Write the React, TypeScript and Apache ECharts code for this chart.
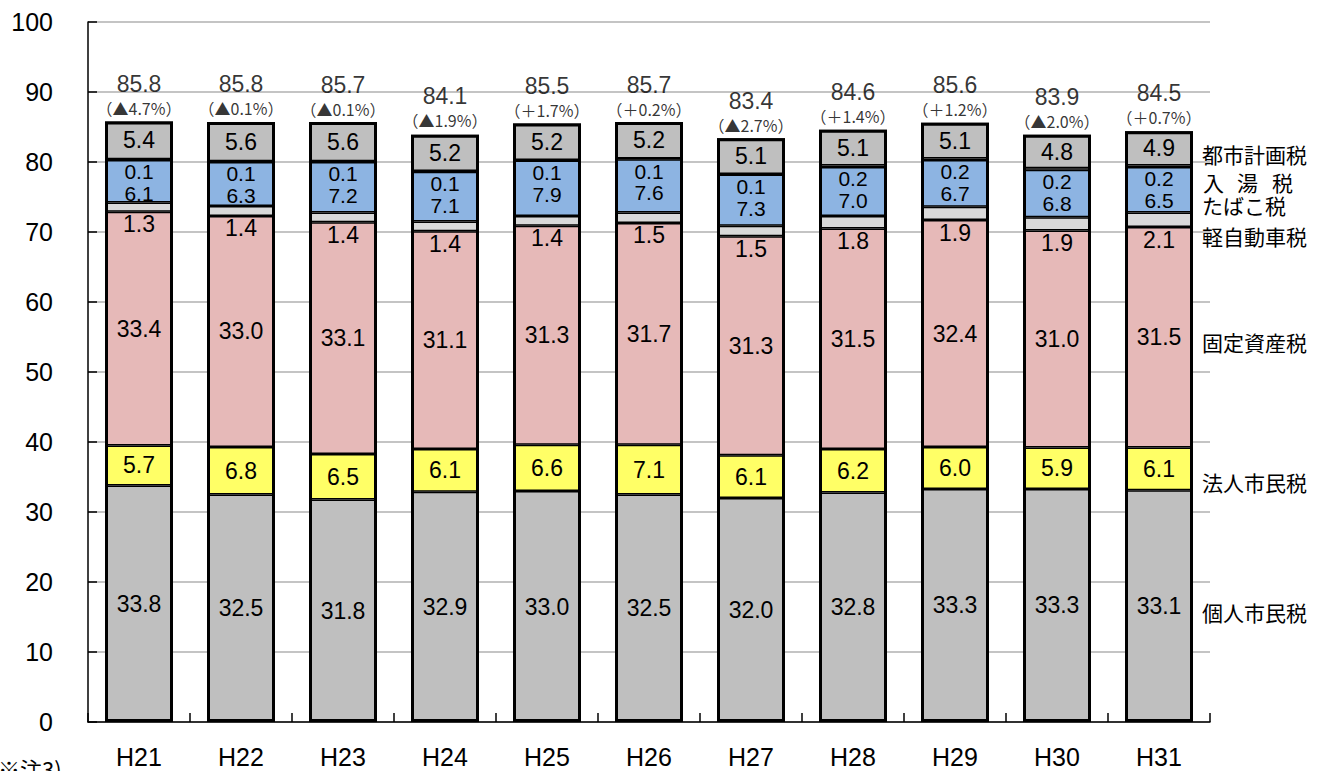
import React, { useEffect, useRef } from "react";
import * as echarts from "echarts";

// Fiscal years
const categories = ["H21", "H22", "H23", "H24", "H25", "H26", "H27", "H28", "H29", "H30", "H31"];

// Tax revenue by item (億円)
const kojin = [33.8, 32.5, 31.8, 32.9, 33.0, 32.5, 32.0, 32.8, 33.3, 33.3, 33.1]; // 個人市民税
const houjin = [5.7, 6.8, 6.5, 6.1, 6.6, 7.1, 6.1, 6.2, 6.0, 5.9, 6.1]; // 法人市民税
const kotei = [33.4, 33.0, 33.1, 31.1, 31.3, 31.7, 31.3, 31.5, 32.4, 31.0, 31.5]; // 固定資産税
const keiji = [1.3, 1.4, 1.4, 1.4, 1.4, 1.5, 1.5, 1.8, 1.9, 1.9, 2.1]; // 軽自動車税
const tabako = [6.1, 6.3, 7.2, 7.1, 7.9, 7.6, 7.3, 7.0, 6.7, 6.8, 6.5]; // たばこ税
const nyuto = [0.1, 0.1, 0.1, 0.1, 0.1, 0.1, 0.1, 0.2, 0.2, 0.2, 0.2]; // 入湯税
const toshi = [5.4, 5.6, 5.6, 5.2, 5.2, 5.2, 5.1, 5.1, 5.1, 4.8, 4.9]; // 都市計画税

// Totals and year-on-year change
const totals = [85.8, 85.8, 85.7, 84.1, 85.5, 85.7, 83.4, 84.6, 85.6, 83.9, 84.5];
const changes = ["▲4.7%", "▲0.1%", "▲0.1%", "▲1.9%", "＋1.7%", "＋0.2%", "▲2.7%", "＋1.4%", "＋1.2%", "▲2.0%", "＋0.7%"];

// Y-axis ticks
const yMin = 0;
const yMax = 100;
const yStep = 10;

const NUM_FONT = "'Liberation Sans', Arial, 'Noto Sans CJK JP', sans-serif";
const JP_FONT = "'Noto Sans CJK JP', 'Noto Sans', sans-serif";
const BAR_WIDTH = 68;

const fmt = (p: any) => Number(p.value).toFixed(1);

// Height of each stacked column, used for the outer frame
const stackTops = categories.map((_, i) =>
  Number(
    (kojin[i] + houjin[i] + kotei[i] + keiji[i] + tabako[i] + nyuto[i] + toshi[i]).toFixed(1)
  )
);

function segment(name: string, data: number[], color: string, label: any) {
  return {
    name,
    type: "bar",
    stack: "tax",
    barWidth: BAR_WIDTH,
    barGap: "-100%",
    data,
    itemStyle: { color, borderColor: "#000", borderWidth: 1.5 },
    label: {
      show: true,
      formatter: fmt,
      color: "#000",
      fontFamily: NUM_FONT,
      fontSize: 23,
      ...label,
    },
  };
}

export default function App() {
  const ref = useRef<HTMLDivElement>(null);

  useEffect(() => {
    if (!ref.current) return;
    const chart = echarts.init(ref.current, null, { renderer: "svg" });

    const legendText = (text: string, x: number, y: number) => ({
      type: "text",
      x,
      y,
      style: {
        text,
        fill: "#000",
        fontSize: 21,
        fontFamily: JP_FONT,
        lineHeight: 21,
        verticalAlign: "middle",
      },
    });

    chart.setOption({
      animation: false,
      backgroundColor: "#fff",
      grid: { left: 88, right: 113, top: 22, bottom: 49, containLabel: false },
      xAxis: {
        type: "category",
        data: categories,
        axisLine: { lineStyle: { color: "#000", width: 1.5 } },
        axisTick: { show: true, inside: true, length: 9, lineStyle: { color: "#000", width: 1.5 } },
        axisLabel: { color: "#000", fontSize: 25, fontFamily: NUM_FONT, margin: 22 },
        splitLine: { show: false },
      },
      yAxis: {
        type: "value",
        min: yMin,
        max: yMax,
        interval: yStep,
        axisLine: { show: true, lineStyle: { color: "#000", width: 1.5 } },
        axisTick: { show: true, inside: true, length: 9, lineStyle: { color: "#000", width: 1.5 } },
        axisLabel: { color: "#000", fontSize: 25, fontFamily: NUM_FONT, margin: 35 },
        splitLine: { show: true, lineStyle: { color: "#c4c4c4", width: 2 } },
      },
      series: [
        segment("個人市民税", kojin, "#bfbfbf", { position: "inside" }),
        segment("法人市民税", houjin, "#ffff66", { position: "inside" }),
        segment("固定資産税", kotei, "#e6b9b8", { position: "inside" }),
        segment("軽自動車税", keiji, "#d9d9d9", { position: "bottom", distance: 1 }),
        segment("たばこ税", tabako, "#8db4e2", {
          position: "insideTop",
          distance: 23,
          fontSize: 21,
          lineHeight: 21,
        }),
        segment("入湯税", nyuto, "#8db4e2", {
          position: "bottom",
          distance: 1,
          fontSize: 21,
          lineHeight: 21,
        }),
        segment("都市計画税", toshi, "#bfbfbf", { position: "inside" }),
        {
          // outer frame of each column
          name: "枠",
          type: "bar",
          barWidth: BAR_WIDTH,
          barGap: "-100%",
          data: stackTops,
          silent: true,
          z: 3,
          itemStyle: { color: "rgba(0,0,0,0)", borderColor: "#000", borderWidth: 3 },
          label: { show: false },
        },
        {
          name: "合計",
          type: "scatter",
          data: totals,
          symbolSize: 1,
          itemStyle: { color: "rgba(0,0,0,0)" },
          z: 5,
          label: {
            show: true,
            position: "top",
            distance: 3,
            formatter: (p: any) =>
              `{t|${totals[p.dataIndex].toFixed(1)}}\n{c|（${changes[p.dataIndex]}）}`,
            rich: {
              t: { fontSize: 23, fontFamily: NUM_FONT, color: "#000", lineHeight: 28 },
              c: { fontSize: 16, fontFamily: JP_FONT, color: "#000", lineHeight: 20 },
            },
          },
        },
      ],
      graphic: [
        legendText("都市計画税", 1202, 154),
        legendText("入", 1203, 182),
        legendText("湯", 1237, 182),
        legendText("税", 1272, 182),
        legendText("たばこ税", 1202, 205),
        legendText("軽自動車税", 1202, 236),
        legendText("固定資産税", 1202, 342),
        legendText("法人市民税", 1202, 482),
        legendText("個人市民税", 1202, 612),
        {
          type: "text",
          x: -2,
          y: 757,
          style: { text: "※注3)", fill: "#000", fontSize: 22, fontFamily: JP_FONT },
        },
      ],
    });

    return () => chart.dispose();
  }, []);

  return (
    <div
      ref={ref}
      style={{ position: "fixed", left: 0, top: 0, width: 1323, height: 771 }}
    />
  );
}
